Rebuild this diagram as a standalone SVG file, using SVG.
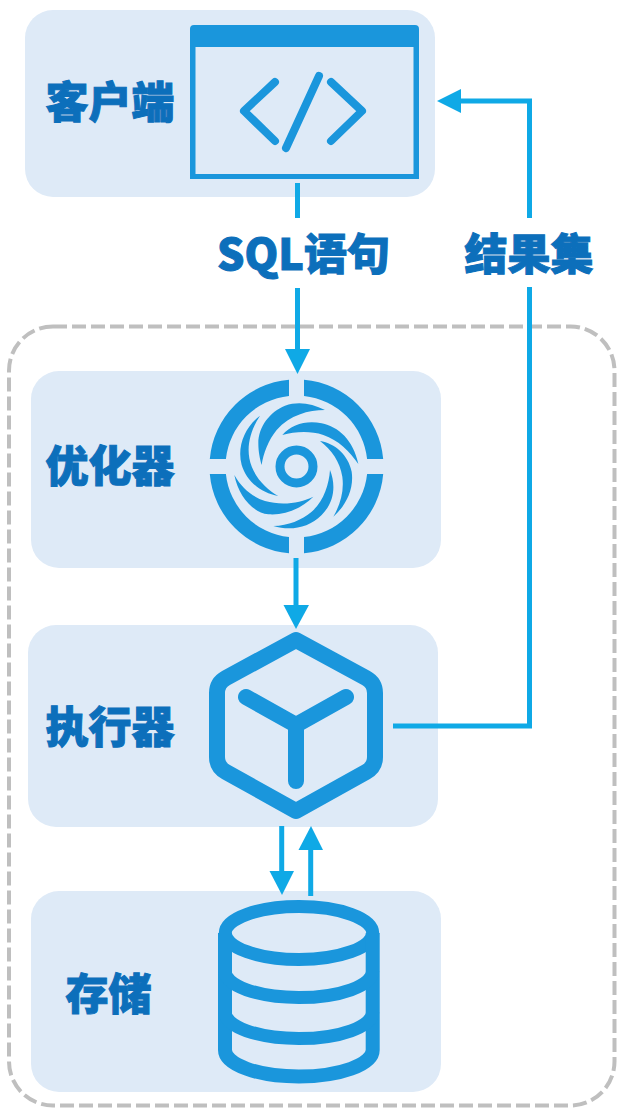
<svg xmlns="http://www.w3.org/2000/svg" xmlns:xlink="http://www.w3.org/1999/xlink" width="632" height="1118" viewBox="0 0 632 1118">
<style>
.panel{fill:#deeaf7}
.label{font-family:"Noto Sans CJK SC","Noto Sans",sans-serif;font-weight:900;font-size:43px;fill:#0c6fbb;stroke:#0c6fbb;stroke-width:1;text-anchor:middle}
.icon{fill:none;stroke:#1a96dc;stroke-linecap:round;stroke-linejoin:round}
.solid{fill:#1a96dc}
.wire{fill:none;stroke:#0fa9e6;stroke-width:5}
.head{fill:#0fa9e6}
</style>
<defs>
<path id="quad" class="solid" d="M7.5,-86.7A87,87 0 0 1 86.7,-7.5L70.6,-7.5A71,71 0 0 0 7.5,-70.6Z"/>
</defs>
<rect id="boundary" x="9" y="326.5" width="605.5" height="779" rx="44" fill="none" stroke="#bfbfbf" stroke-width="4" stroke-dasharray="14 5"/>
<g id="client">
<rect class="panel" x="25" y="10" width="410" height="187" rx="28"/>
<path class="solid" d="M190,29a4,4 0 0 1 4,-4H415a4,4 0 0 1 4,4V179H190ZM195.500,47V174H413.500V47Z" fill-rule="evenodd"/>
<path class="icon" stroke-width="8" d="M275,82L244,111L275,141M331,82L362,111L331,141M319,76L286,148"/>
<text class="label" x="110" y="118">客户端</text>
</g>
<g id="optimizer">
<rect class="panel" x="31" y="371" width="410" height="197" rx="28"/>
<g transform="translate(296.500,466.500)">
<use xlink:href="#quad" href="#quad"/>
<use xlink:href="#quad" href="#quad" transform="rotate(90)"/>
<use xlink:href="#quad" href="#quad" transform="rotate(180)"/>
<use xlink:href="#quad" href="#quad" transform="rotate(270)"/>
</g>
<circle cx="296.500" cy="466.500" r="16.500" fill="none" stroke="#1a96dc" stroke-width="9"/>
<g class="solid" transform="translate(195,365) scale(.33333)">
<path d="M390,135C350,115 310,108 270,122C225,140 190,185 190,235C190,260 195,285 200,300C205,265 220,225 245,195C285,150 340,135 390,135Z"/>
<path d="M262,210C290,178 335,165 380,175C430,185 475,225 490,297C465,260 430,225 385,210C345,197 300,200 262,210Z"/>
<path d="M375,228C420,235 460,270 470,320C478,375 450,425 415,455C435,420 448,380 442,335C435,290 410,255 375,228Z"/>
<path d="M405,315C425,365 415,415 380,450C340,490 285,498 235,483C280,482 320,465 350,440C385,410 402,360 405,315Z"/>
<path d="M355,395C320,430 270,452 220,448C170,442 130,390 118,330C140,370 175,397 210,408C260,422 315,415 355,395Z"/>
<path d="M250,393C200,385 155,350 140,300C125,245 150,185 195,152C170,190 155,235 163,280C172,330 210,370 250,393Z"/>
</g>
<text class="label" x="110" y="482">优化器</text>
</g>
<g id="executor">
<rect class="panel" x="28" y="625" width="410" height="202" rx="28"/>
<path class="icon" stroke-width="16" d="M296,640L366,678Q375,683 375,693V757Q375,767 366,772L296,811L226,772Q217,767 217,757V693Q217,683 226,678Z"/>
<path class="icon" stroke-width="16" d="M246,697L296,725L346,697M296,725V781"/>
<text class="label" x="110" y="743">执行器</text>
</g>
<g id="storage">
<rect class="panel" x="31" y="891" width="410" height="201" rx="28"/>
<ellipse cx="299" cy="933" rx="73.700" ry="26.500" fill="none" stroke="#1a96dc" stroke-width="13"/>
<path fill="none" stroke="#1a96dc" stroke-width="14" d="M225,933V1050A73.700,26.500 0 0 0 372.700,1050V933"/>
<path fill="none" stroke="#1a96dc" stroke-width="13" d="M225,971A73.700,26.500 0 0 0 372.700,971M225,1012A73.700,26.500 0 0 0 372.700,1012"/>
<text class="label" x="108.500" y="1010">存储</text>
</g>
<g id="connectors">
<path class="wire" d="M297.500,183V218M297.500,288V352"/>
<polygon class="head" points="285,349 310,349 297.500,374"/>
<path class="wire" d="M296,558V607"/>
<polygon class="head" points="283.500,605 309,605 296,629"/>
<path class="wire" d="M281.700,826V873"/>
<polygon class="head" points="269.500,871 294,871 282,895"/>
<path class="wire" d="M310.700,896V848"/>
<polygon class="head" points="298.500,850 323,850 311,826"/>
<path class="wire" d="M393,726H529.500V287M529.500,218V101H458"/>
<polygon class="head" points="461,89 461,113 437,101"/>
</g>
<g id="edge-labels">
<text class="label" x="303.500" y="270">SQL语句</text>
<text class="label" x="529" y="270">结果集</text>
</g>
</svg>
